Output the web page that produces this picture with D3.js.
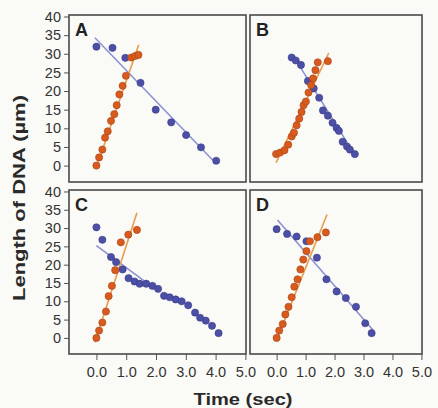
<!DOCTYPE html>
<html>
<head>
<meta charset="utf-8">
<script src="https://cdn.jsdelivr.net/npm/d3@7"></script>
<style>
  body { margin: 0; background: #fafaf7; }
  svg { display: block; font-family: Arial, "Liberation Sans", sans-serif; }
</style>
</head>
<body>
<div id="chart"></div>
<script>
const width = 438;
const height = 408;

// tick values
const timeTicks = [0, 1, 2, 3, 4, 5];
const lengthTicks = [0, 5, 10, 15, 20, 25, 30, 35, 40];

// panel A
const aBlue = [[0.0,31.9],[0.54,31.6],[0.97,28.9],[1.48,22.2],[1.99,15.0],[2.51,11.6],[3.01,8.2],[3.51,4.9],[4.02,1.3]];
const aOrange = [[0.0,0.0],[0.09,2.2],[0.2,4.3],[0.29,7.5],[0.38,9.2],[0.49,12.0],[0.6,13.8],[0.68,16.2],[0.77,19.1],[0.88,21.4],[0.99,24.1],[1.17,29.0],[1.3,29.4],[1.41,29.7]];
const aBlueFit = [[-0.05,34.3],[3.9,1.5]];
const aOrangeFit = [[-0.02,-0.9],[1.42,32.4]];

// panel B
const bBlue = [[0.52,29.0],[0.66,28.2],[0.84,27.0],[1.08,22.7],[1.28,20.7],[1.47,18.2],[1.6,14.8],[1.77,13.4],[1.93,11.5],[2.07,10.1],[2.15,9.3],[2.28,6.4],[2.43,5.1],[2.53,4.3],[2.70,3.1]];
const bOrange = [[-0.02,3.1],[0.12,3.5],[0.27,4.1],[0.4,5.6],[0.52,7.8],[0.6,8.8],[0.69,10.8],[0.78,12.6],[0.86,14.4],[0.93,16.2],[1.01,17.2],[1.1,19.6],[1.19,21.6],[1.26,23.4],[1.34,25.6],[1.42,27.7],[1.77,28.0]];
const bBlueFit = [[0.8,26.6],[2.72,2.6]];
const bOrangeFit = [[-0.02,0.8],[1.8,30.2]];

// panel C
const cBlue = [[0.0,30.2],[0.2,26.8],[0.49,22.1],[0.66,20.7],[0.88,18.7],[1.08,16.3],[1.28,15.4],[1.45,14.8],[1.67,14.8],[1.88,14.2],[2.07,13.4],[2.27,11.5],[2.46,11.1],[2.66,10.5],[2.86,10.0],[3.08,8.9],[3.31,6.9],[3.48,5.5],[3.67,4.7],[3.88,3.3],[4.1,1.3]];
const cOrange = [[0.0,0.0],[0.09,2.0],[0.2,4.2],[0.32,7.2],[0.41,11.4],[0.52,14.2],[0.63,18.5],[0.82,26.1],[1.07,28.2],[1.36,29.5]];
const cBlueFit = [[0.0,25.2],[1.6,15.6]];
const cOrangeFit = [[-0.05,-1.2],[1.36,34.2]];

// panel D
const dBlue = [[0.0,29.7],[0.36,28.4],[0.69,27.7],[1.03,26.4],[1.39,21.9],[1.72,16.0],[2.07,12.7],[2.39,10.9],[2.74,8.5],[3.06,4.0],[3.28,1.3]];
const dOrange = [[0.0,0.0],[0.09,2.0],[0.21,3.8],[0.3,6.4],[0.41,8.5],[0.52,11.1],[0.61,14.0],[0.72,16.0],[0.82,18.7],[0.92,21.4],[1.03,23.7],[1.15,26.4],[1.41,27.5],[1.7,28.8]];
const dBlueFit = [[0.03,32.2],[3.34,2.0]];
const dOrangeFit = [[0.01,-0.4],[1.74,33.7]];

const panelData = [
  {name: "A", col: 0, row: 0, blue: aBlue, orange: aOrange, blueFit: aBlueFit, orangeFit: aOrangeFit},
  {name: "B", col: 1, row: 0, blue: bBlue, orange: bOrange, blueFit: bBlueFit, orangeFit: bOrangeFit},
  {name: "C", col: 0, row: 1, blue: cBlue, orange: cOrange, blueFit: cBlueFit, orangeFit: cOrangeFit},
  {name: "D", col: 1, row: 1, blue: dBlue, orange: dOrange, blueFit: dBlueFit, orangeFit: dOrangeFit}
];

// panel frames in pixels
const cols = [[69, 246], [250, 422]];
const rows = [[15, 182], [190, 354]];

const svg = d3.select("#chart")
  .append("svg")
  .attr("width", width)
  .attr("height", height);

svg.append("rect")
  .attr("width", width)
  .attr("height", height)
  .attr("fill", "#fafaf7");

panelData.forEach(p => {
  const xr = cols[p.col];
  const yr = rows[p.row];

  const x = d3.scaleLinear().domain([-0.92, 5.02]).range(xr);
  const y = d3.scaleLinear().domain([-4.4, 40.4]).range([yr[1], yr[0]]);

  const g = svg.append("g");

  // y axis on the left column only
  if (p.col === 0) {
    const yAxis = g.append("g")
      .attr("transform", "translate(" + xr[0] + ",0)")
      .call(d3.axisLeft(y).tickValues(lengthTicks).tickSize(5).tickPadding(3));
    yAxis.select(".domain").remove();
    yAxis.selectAll("line").attr("stroke", "#555");
    yAxis.selectAll("text")
      .attr("font-size", 14.5)
      .attr("fill", "#333");
  }

  // x axis under the bottom row
  if (p.row === 1) {
    const xAxis = g.append("g")
      .attr("transform", "translate(0," + yr[1] + ")")
      .call(d3.axisBottom(x).tickValues(timeTicks).tickSize(6).tickPadding(7).tickFormat(d3.format(".1f")));
    xAxis.select(".domain").remove();
    xAxis.selectAll("line").attr("stroke", "#555");
    xAxis.selectAll("text")
      .attr("font-size", 14.5)
      .attr("fill", "#333");
  }

  // frame
  g.append("rect")
    .attr("x", xr[0])
    .attr("y", yr[0])
    .attr("width", xr[1] - xr[0])
    .attr("height", yr[1] - yr[0])
    .attr("fill", "none")
    .attr("stroke", "#4a4a4a")
    .attr("stroke-width", 1.6);

  const line = d3.line().x(d => x(d[0])).y(d => y(d[1]));

  // fit lines
  g.append("path")
    .datum(p.blueFit)
    .attr("d", line)
    .attr("stroke", "#8e92d4")
    .attr("stroke-width", 1.6)
    .attr("fill", "none");

  g.append("path")
    .datum(p.orangeFit)
    .attr("d", line)
    .attr("stroke", "#e89c4e")
    .attr("stroke-width", 1.6)
    .attr("fill", "none");

  // dots
  g.selectAll(".blue")
    .data(p.blue)
    .enter()
    .append("circle")
    .attr("class", "blue")
    .attr("cx", d => x(d[0]))
    .attr("cy", d => y(d[1]))
    .attr("r", 3.6)
    .attr("fill", "#4b4fa6")
    .attr("stroke", "#3a3d88")
    .attr("stroke-width", 0.6);

  g.selectAll(".orange")
    .data(p.orange)
    .enter()
    .append("circle")
    .attr("class", "orange")
    .attr("cx", d => x(d[0]))
    .attr("cy", d => y(d[1]))
    .attr("r", 3.6)
    .attr("fill", "#d85a1c")
    .attr("stroke", "#a8441a")
    .attr("stroke-width", 0.6);

  // panel letter
  g.append("text")
    .attr("x", xr[0] + 6)
    .attr("y", yr[0] + 21)
    .attr("font-size", 18)
    .attr("font-weight", "bold")
    .attr("fill", "#222")
    .text(p.name);
});

// axis titles
svg.append("text")
  .attr("transform", "translate(25,198) rotate(-90)")
  .attr("text-anchor", "middle")
  .attr("font-size", 16)
  .attr("font-weight", "bold")
  .attr("fill", "#2a2a2a")
  .attr("textLength", 206)
  .attr("lengthAdjust", "spacingAndGlyphs")
  .text("Length of DNA (µm)");

svg.append("text")
  .attr("x", 243)
  .attr("y", 405)
  .attr("text-anchor", "middle")
  .attr("font-size", 16)
  .attr("font-weight", "bold")
  .attr("fill", "#2a2a2a")
  .attr("textLength", 99)
  .attr("lengthAdjust", "spacingAndGlyphs")
  .text("Time (sec)");
</script>
</body>
</html>
